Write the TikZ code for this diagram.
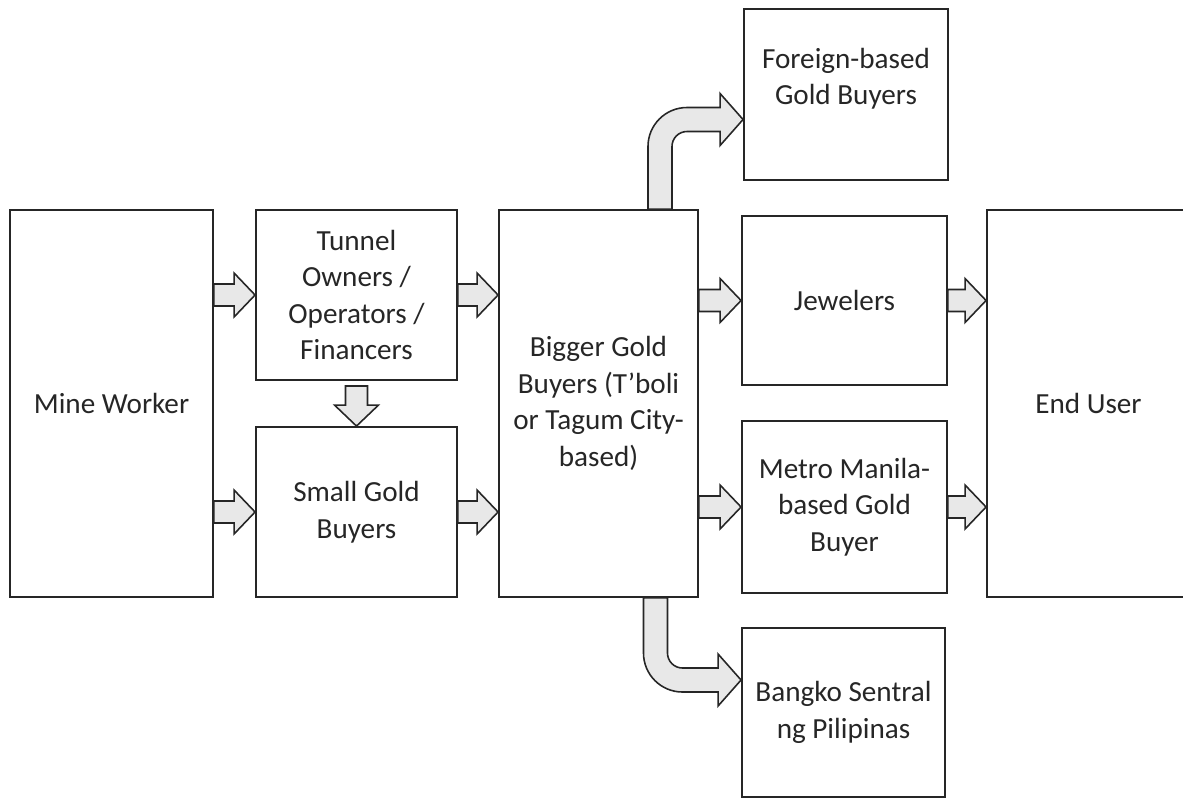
\documentclass[tikz,border=0pt]{standalone}
\usepackage{fontspec}
\setmainfont{Carlito}
\usetikzlibrary{calc}

\tikzset{
  box/.style={draw=black!85, line width=1.1pt, align=center, text=black!85,
    font=\fontsize{16.6}{20.8}\selectfont, inner sep=2pt},
  blockarrow/.style={draw=black!85, fill=black!9, line width=0.9pt, line join=miter}
}
% straight block arrows
\def\ash{0.22cm}\def\ahh{0.44cm}\def\ahl{0.42cm}
\newcommand{\rarrow}[2]{\draw[blockarrow] let \p1=(#1), \p2=(#2) in
  (\x1,\y1+\ash) -- (\x2-\ahl,\y1+\ash) -- (\x2-\ahl,\y1+\ahh) -- (\x2,\y1)
  -- (\x2-\ahl,\y1-\ahh) -- (\x2-\ahl,\y1-\ash) -- (\x1,\y1-\ash) -- cycle;}
\newcommand{\darrow}[2]{\draw[blockarrow] let \p1=(#1), \p2=(#2) in
  (\x1-\ash,\y1) -- (\x1-\ash,\y2+\ahl) -- (\x1-\ahh,\y2+\ahl) -- (\x1,\y2)
  -- (\x1+\ahh,\y2+\ahl) -- (\x1+\ash,\y2+\ahl) -- (\x1+\ash,\y1) -- cycle;}
% bent block arrows
\def\bsh{0.24cm}\def\bhh{0.52cm}\def\bhl{0.46cm}\def\bout{0.78cm}\def\bin{0.30cm}

\begin{document}
\begin{tikzpicture}[x=0.02cm, y=-0.02cm]
  \useasboundingbox (0,0) rectangle (1183,799);
  \clip (0,0) rectangle (1183,799);
  \node[box, minimum width=4.06cm, minimum height=7.74cm] (mine) at (111.5,403.5) {Mine Worker};
  \node[box, minimum width=4.02cm, minimum height=3.40cm] (tunnel) at (356.5,295) {Tunnel\\Owners /\\Operators /\\Financers};
  \node[box, minimum width=4.02cm, minimum height=3.40cm] (small) at (356.5,512) {Small Gold\\Buyers};
  \node[box, minimum width=3.98cm, minimum height=7.74cm] (bigger) at (598.5,403.5) {Bigger Gold\\Buyers (T’boli\\or Tagum City-\\based)};
  \node[box, minimum width=4.08cm, minimum height=3.42cm] (foreign) at (846,94.5) {Foreign-based\\Gold Buyers\\\mbox{}};
  \node[box, minimum width=4.10cm, minimum height=3.38cm] (jewel) at (844.5,300.5) {Jewelers};
  \node[box, minimum width=4.10cm, minimum height=3.44cm] (metro) at (844.5,507) {Metro Manila-\\based Gold\\Buyer};
  \node[box, minimum width=4.06cm, minimum height=3.38cm] (bangko) at (843.5,712.5) {Bangko Sentral\\ng Pilipinas};
  \node[box, minimum width=4.06cm, minimum height=7.74cm] (end) at (1088.5,403.5) {End User};

  \foreach \a/\b in {mine.east |- tunnel.west/tunnel.west, mine.east |- small.west/small.west,
      tunnel.east/bigger.west, small.east/bigger.west,
      bigger.east |- jewel.west/jewel.west, bigger.east |- metro.west/metro.west,
      jewel.east/end.west, metro.east/end.west} {
    \rarrow{\a}{\b}
  }
  \darrow{[yshift=-0.1cm]tunnel.south}{small.north}

  % up to the foreign buyers
  \draw[blockarrow] let \p1=([xshift=1.23cm]bigger.north), \p2=([yshift=-0.5cm]foreign.west) in
    (\x1-\bsh,\y1) -- (\x1-\bsh,\y2+\bsh-\bout) arc[start angle=180, end angle=90, radius=\bout]
    -- (\x2-\bhl,\y2+\bsh) -- (\x2-\bhl,\y2+\bhh) -- (\x2,\y2) -- (\x2-\bhl,\y2-\bhh)
    -- (\x2-\bhl,\y2-\bsh) -- (\x1+\bsh+\bin,\y2-\bsh) arc[start angle=90, end angle=180, radius=\bin]
    -- (\x1+\bsh,\y1) -- cycle;
  % down to the central bank
  \draw[blockarrow] let \p1=([xshift=1.14cm]bigger.south), \p2=([yshift=0.65cm]bangko.west) in
    (\x1-\bsh,\y1) -- (\x1-\bsh,\y2-\bsh+\bout) arc[start angle=180, end angle=270, radius=\bout]
    -- (\x2-\bhl,\y2-\bsh) -- (\x2-\bhl,\y2-\bhh) -- (\x2,\y2) -- (\x2-\bhl,\y2+\bhh)
    -- (\x2-\bhl,\y2+\bsh) -- (\x1+\bsh+\bin,\y2+\bsh) arc[start angle=270, end angle=180, radius=\bin]
    -- (\x1+\bsh,\y1) -- cycle;
\end{tikzpicture}
\end{document}
